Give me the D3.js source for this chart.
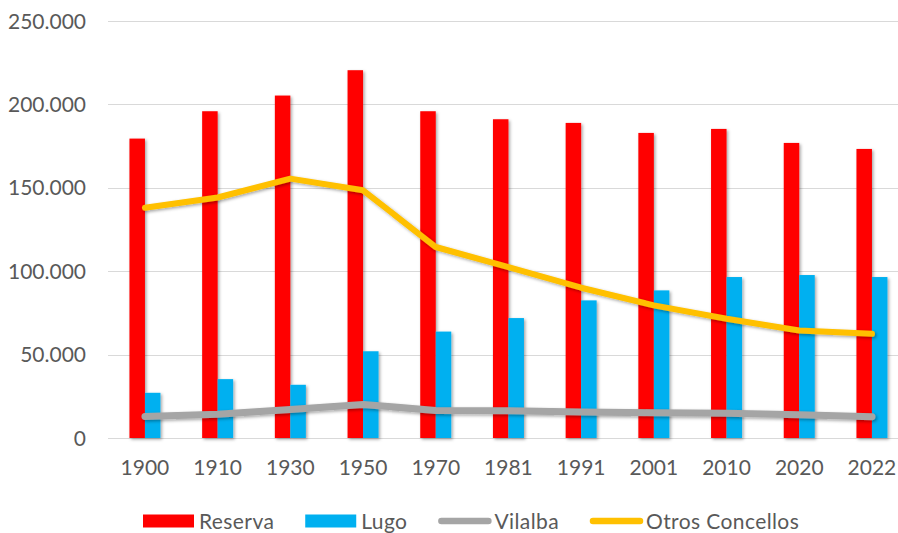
<!DOCTYPE html>
<html><head><meta charset="utf-8">
<script src="https://cdn.jsdelivr.net/npm/d3@7/dist/d3.min.js"></script>
<style>
html,body{margin:0;padding:0;background:#fff;}
svg{display:block;font-family:Lato,"Open Sans",sans-serif;}
</style></head>
<body>
<svg id="chart" width="898" height="533"></svg>
<script>
const categories = ["1900","1910","1930","1950","1970","1981","1991","2001","2010","2020","2022"];
const reserva = [179500,195900,205300,220500,195900,191100,188900,182900,185300,176900,173300];
const lugo = [27100,35300,31900,52000,63800,71900,82500,88500,96500,97700,96500];
const vilalba = [12900,14300,17100,20100,16500,16300,15600,15200,14800,14000,12800];
const otros = [138000,144200,155500,148500,114500,102500,90100,79500,71500,64500,62500];
const yTicks = [0,50000,100000,150000,200000,250000];
const seriesNames = ["Reserva","Lugo","Vilalba","Otros Concellos"];
const colors = ["#ff0000","#00b0f0","#a5a5a5","#ffc000"];

const W = 898, H = 533;
const svg = d3.select("#chart");
const defs = svg.append("defs");
const f = defs.append("filter").attr("id","sh").attr("x","-50%").attr("y","-50%").attr("width","200%").attr("height","200%");
f.append("feDropShadow").attr("dx",1.5).attr("dy",1.5).attr("stdDeviation",1.6).attr("flood-color","#000").attr("flood-opacity",0.35);

const x0 = d3.scaleBand().domain(categories).range([108.6, 908.3]).padding(0);
const groupW = 31;
const x1 = d3.scaleBand().domain(["Reserva","Lugo"]).range([(x0.bandwidth()-groupW)/2, (x0.bandwidth()+groupW)/2]);
const y = d3.scaleLinear().domain([0,250000]).range([438,21]);

const loc = d3.formatLocale({decimal:",", thousands:".", grouping:[3], currency:["",""]});
const fmt = loc.format(",d");

// gridlines
svg.append("g").selectAll("line").data(yTicks).join("line")
  .attr("x1",108).attr("x2",W).attr("y1",d=>Math.round(y(d))+0.5).attr("y2",d=>Math.round(y(d))+0.5)
  .attr("stroke","#d9d9d9").attr("stroke-width",1.2);

// y labels
svg.append("g").selectAll("text").data(yTicks).join("text")
  .attr("x",86).attr("y",d=>y(d)).attr("dy","0.36em").attr("text-anchor","end")
  .attr("font-size",21).attr("fill","#595959").text(d=>fmt(d));

// x labels
svg.append("g").selectAll("text").data(categories).join("text")
  .attr("x",d=>x0(d)+x0.bandwidth()/2).attr("y",475).attr("text-anchor","middle")
  .attr("font-size",21).attr("fill","#595959").text(d=>d);

// bars
const barData = categories.map((c,i)=>[{c,k:"Reserva",v:reserva[i],col:colors[0]},{c,k:"Lugo",v:lugo[i],col:colors[1]}]);
const bars = svg.append("g").attr("filter","url(#sh)");
bars.selectAll("g").data(barData).join("g")
  .attr("transform",d=>`translate(${x0(d[0].c)},0)`)
  .selectAll("rect").data(d=>d).join("rect")
  .attr("x",d=>x1(d.k)).attr("width",x1.bandwidth())
  .attr("y",d=>y(d.v)).attr("height",d=>y(0)-y(d.v))
  .attr("fill",d=>d.col);

// lines
const line = d3.line().x((d,i)=>x0(categories[i])+x0.bandwidth()/2).y(d=>y(d));
const lg = svg.append("g").attr("filter","url(#sh)");
lg.append("path").datum(vilalba).attr("d",line).attr("fill","none").attr("stroke",colors[2])
  .attr("stroke-width",7).attr("stroke-linecap","round").attr("stroke-linejoin","round");
lg.append("path").datum(otros).attr("d",line).attr("fill","none").attr("stroke",colors[3])
  .attr("stroke-width",6).attr("stroke-linecap","round").attr("stroke-linejoin","round");

// legend
const leg = svg.append("g");
let lx = 143;
const ly = 521;
seriesNames.forEach((name,i)=>{
  const g = leg.append("g");
  if(i<2){
    g.append("rect").attr("x",lx).attr("y",ly-6.5).attr("width",51).attr("height",13).attr("fill",colors[i]);
  } else {
    g.append("line").attr("x1",lx+3).attr("x2",lx+50).attr("y1",ly).attr("y2",ly)
      .attr("stroke",colors[i]).attr("stroke-width",6.5).attr("stroke-linecap","round");
  }
  const t = g.append("text").attr("x",lx+56).attr("y",ly).attr("dy","0.36em")
    .attr("font-size",21).attr("letter-spacing",0.4).attr("fill","#595959").text(name);
  lx = lx + 56 + t.node().getComputedTextLength() + 31;
});
</script>
</body></html>
